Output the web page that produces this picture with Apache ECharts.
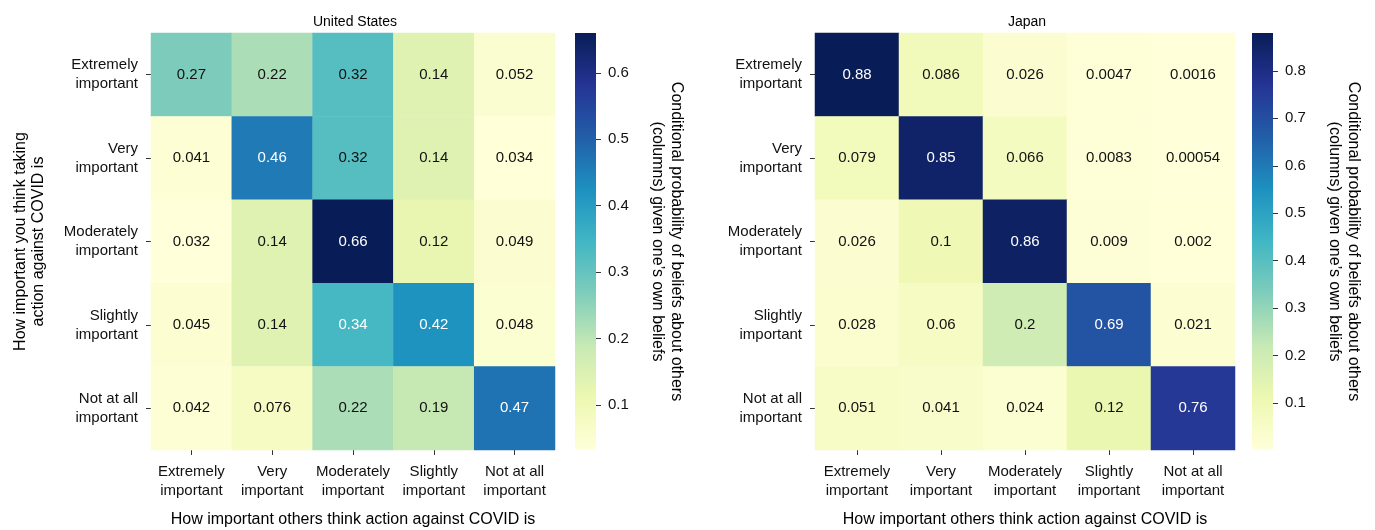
<!DOCTYPE html>
<html>
<head>
<meta charset="utf-8">
<script src="https://cdn.jsdelivr.net/npm/echarts@6/dist/echarts.min.js"></script>
<style>
  html, body { margin: 0; padding: 0; background: #fff; }
  #chart { width: 1375px; height: 530px; }
</style>
</head>
<body>
<div id="chart"></div>
<script>
// Belief categories (rows: own belief, columns: belief about others)
const categories = [
  'Extremely\nimportant',
  'Very\nimportant',
  'Moderately\nimportant',
  'Slightly\nimportant',
  'Not at all\nimportant'
];

// Conditional probabilities, one array per row (own belief)
const usRows = [
  [0.27, 0.22, 0.32, 0.14, 0.052],
  [0.041, 0.46, 0.32, 0.14, 0.034],
  [0.032, 0.14, 0.66, 0.12, 0.049],
  [0.045, 0.14, 0.34, 0.42, 0.048],
  [0.042, 0.076, 0.22, 0.19, 0.47]
];
const jpRows = [
  [0.88, 0.086, 0.026, 0.0047, 0.0016],
  [0.079, 0.85, 0.066, 0.0083, 0.00054],
  [0.026, 0.1, 0.86, 0.009, 0.002],
  [0.028, 0.06, 0.2, 0.69, 0.021],
  [0.051, 0.041, 0.024, 0.12, 0.76]
];

// Colour bar tick labels
const usTicks = [0.1, 0.2, 0.3, 0.4, 0.5, 0.6];
const jpTicks = [0.1, 0.2, 0.3, 0.4, 0.5, 0.6, 0.7, 0.8];

const titles = ['United States', 'Japan'];
const xName = 'How important others think action against COVID is';
const yName = 'How important you think taking\naction against COVID is';
const cbarName = 'Conditional probability of beliefs about others\n(columns) given one\u2019s own beliefs';

// YlGnBu palette
const palette = ['#ffffd9', '#edf8b1', '#c7e9b4', '#7fcdbb', '#41b6c4',
                 '#1d91c0', '#225ea8', '#253494', '#081d58'];

const FONT = '"Liberation Sans", Arial, Helvetica, sans-serif';

function toCells(rows) {
  const out = [];
  rows.forEach((row, r) => row.forEach((v, c) => out.push([c, r, v])));
  return out;
}
function extent(rows) {
  const all = rows.flat();
  return [Math.min(...all), Math.max(...all)];
}

const panels = [
  { rows: usRows, ticks: usTicks, left: 151, width: 404, cbLeft: 575, showYName: true },
  { rows: jpRows, ticks: jpTicks, left: 815, width: 420, cbLeft: 1252, showYName: false }
];
const TOP = 33, HEIGHT = 417, CBW = 21;

const grid = [], xAxis = [], yAxis = [], series = [], visualMap = [], title = [];

panels.forEach((p, i) => {
  const [mn, mx] = extent(p.rows);
  const hg = i * 2, cg = i * 2 + 1;

  grid.push({ left: p.left, top: TOP, width: p.width, height: HEIGHT, outerBoundsMode: 'none', containLabel: false });
  grid.push({ left: p.cbLeft, top: TOP, width: CBW, height: HEIGHT, outerBoundsMode: 'none', containLabel: false });

  title.push({
    text: titles[i], left: p.left + p.width / 2 - 3, top: 10, textAlign: 'center',
    textStyle: { fontFamily: FONT, fontSize: 14, fontWeight: 'normal', color: '#000' }
  });

  // heatmap axes
  xAxis.push({
    type: 'category', gridIndex: hg, data: categories, position: 'bottom',
    name: xName, nameLocation: 'middle', nameGap: 62,
    nameTextStyle: { fontFamily: FONT, fontSize: 16, color: '#000' },
    axisLine: { show: false },
    axisTick: { show: true, alignWithLabel: true, length: 5, lineStyle: { color: '#333', width: 1 } },
    axisLabel: { fontFamily: FONT, fontSize: 15, color: '#111', lineHeight: 19, margin: 12, interval: 0 },
    splitLine: { show: false }
  });
  yAxis.push({
    type: 'category', gridIndex: hg, data: categories, inverse: true,
    name: p.showYName ? yName : '', nameLocation: 'middle', nameGap: 103, nameRotate: 90,
    nameTextStyle: { fontFamily: FONT, fontSize: 16, color: '#000', lineHeight: 18 },
    axisLine: { show: false },
    axisTick: { show: true, alignWithLabel: true, length: 5, lineStyle: { color: '#333', width: 1 } },
    axisLabel: { fontFamily: FONT, fontSize: 15, color: '#111', lineHeight: 19, margin: 13, align: 'right', interval: 0 },
    splitLine: { show: false }
  });

  // colour bar axes
  xAxis.push({ type: 'category', gridIndex: cg, data: [''], show: false });
  yAxis.push({
    type: 'value', gridIndex: cg, min: mn, max: mx, position: 'right',
    name: cbarName, nameLocation: 'middle', nameRotate: -90, nameGap: 52,
    nameTextStyle: { fontFamily: FONT, fontSize: 16, color: '#000', lineHeight: 19 },
    axisLine: { show: false },
    axisTick: { show: true, customValues: p.ticks, length: 5, lineStyle: { color: '#333', width: 1 } },
    axisLabel: { show: true, customValues: p.ticks, fontFamily: FONT, fontSize: 15, color: '#111', margin: 12 },
    splitLine: { show: false }
  });

  // cells darker than this get white annotation text
  const thr = mn + 0.475 * (mx - mn);
  series.push({
    type: 'heatmap', xAxisIndex: hg, yAxisIndex: hg,
    data: toCells(p.rows).map(v => ({
      value: v,
      label: { color: v[2] > thr ? '#fff' : '#111' }
    })),
    itemStyle: { borderWidth: 0 },
    label: {
      show: true, fontFamily: FONT, fontSize: 15,
      formatter: d => String(d.value[2])
    },
    emphasis: { disabled: true }
  });

  visualMap.push({
    type: 'continuous', seriesIndex: series.length - 1, min: mn, max: mx,
    show: false, inRange: { color: palette }
  });

  // colour bar: gradient strip spanning the value range
  series.push({
    type: 'custom', xAxisIndex: cg, yAxisIndex: cg,
    data: [[0, mn, mx]],
    silent: true,
    renderItem: (params, api) => {
      const top = api.coord([0, api.value(2)]);
      const bot = api.coord([0, api.value(1)]);
      const w = api.size([1, 0])[0];
      return {
        type: 'rect',
        shape: { x: top[0] - w / 2, y: top[1], width: w, height: bot[1] - top[1] },
        style: {
          fill: new echarts.graphic.LinearGradient(0, 1, 0, 0,
            palette.map((c, k) => ({ offset: k / (palette.length - 1), color: c })))
        }
      };
    }
  });
});

const chart = echarts.init(document.getElementById('chart'), null, { renderer: 'canvas' });
chart.setOption({
  animation: false,
  backgroundColor: '#fff',
  title, grid, xAxis, yAxis, visualMap, series
});
</script>
</body>
</html>
